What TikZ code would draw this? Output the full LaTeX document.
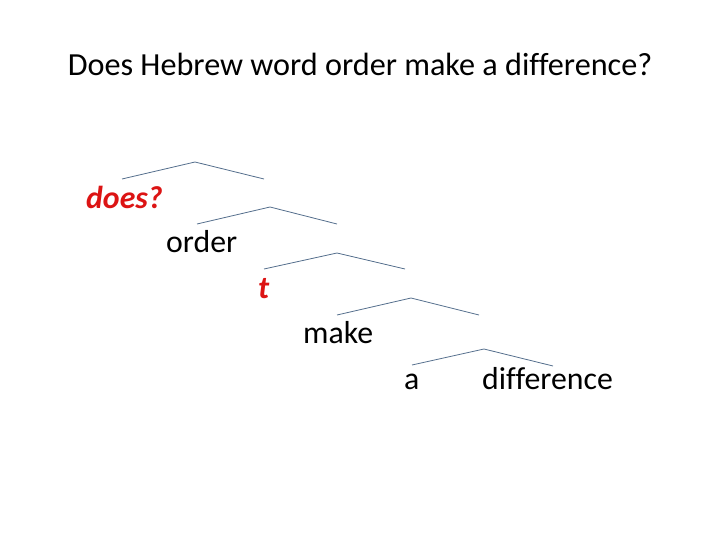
\documentclass[tikz,border=0pt]{standalone}
\usepackage{fontspec}
\setmainfont[Ligatures=NoCommon]{Carlito}
\definecolor{branch}{RGB}{84,110,140}
\definecolor{movred}{RGB}{220,20,20}
\begin{document}
\begin{tikzpicture}[x=1pt,y=-1pt,
  word/.style={anchor=base west,inner sep=0pt,font=\fontsize{31.8}{36}\selectfont},
  moved/.style={word,text=movred,font=\fontsize{31.8}{36}\selectfont\bfseries\itshape},
  branchline/.style={draw=branch,line width=0.8pt}]
\useasboundingbox (0,0) rectangle (720,540);
\node[anchor=base,inner sep=0pt,font=\fontsize{32.2}{36}\selectfont] (title) at (360,76) {Does Hebrew word order make a difference?};
% tree nodes
\coordinate (l1) at (122,179); \coordinate (p1) at (195,162); \coordinate (r1) at (264,179);
\coordinate (l2) at (197,224); \coordinate (p2) at (270,207); \coordinate (r2) at (337,224);
\coordinate (l3) at (264,269); \coordinate (p3) at (337,253); \coordinate (r3) at (405,269);
\coordinate (l4) at (337,315); \coordinate (p4) at (411,298); \coordinate (r4) at (479,315);
\coordinate (l5) at (412,365); \coordinate (p5) at (484,349); \coordinate (r5) at (553,366);
\draw[branchline] (l1) -- (p1) -- (r1);
\draw[branchline] (l2) -- (p2) -- (r2);
\draw[branchline] (l3) -- (p3) -- (r3);
\draw[branchline] (l4) -- (p4) -- (r4);
\draw[branchline] (l5) -- (p5) -- (r5);
\node[moved] (does) at (86,208) {does?};
\node[word] (order) at (166,252) {order};
\node[moved] (t) at (258,298) {t};
\node[word] (make) at (303,343) {make};
\node[word] (a) at (404,389) {a};
\node[word] (diff) at (482,389) {difference};
\end{tikzpicture}
\end{document}
